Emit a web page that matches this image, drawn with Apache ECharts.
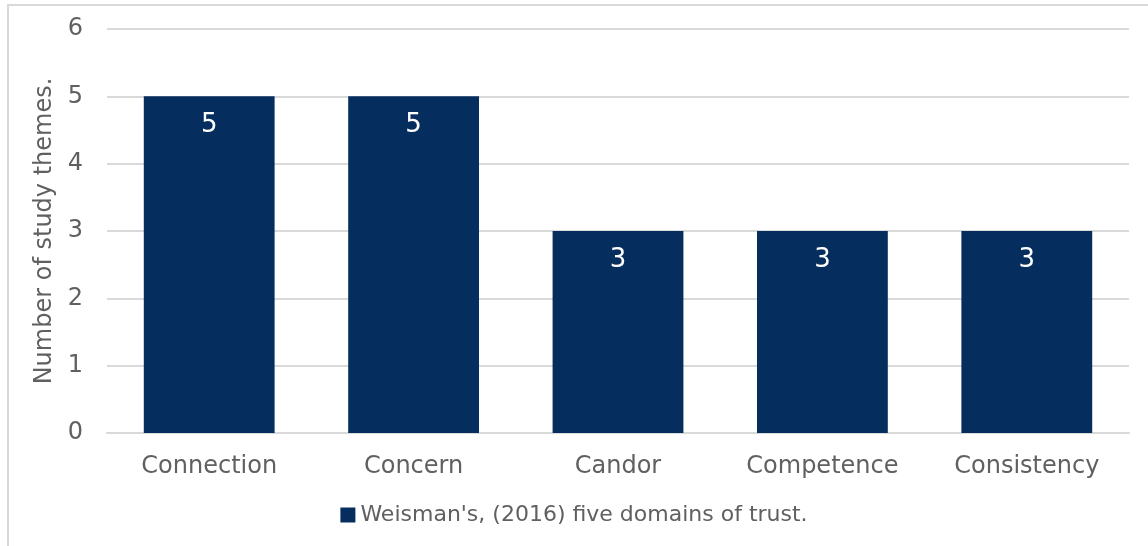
<!DOCTYPE html>
<html><head><meta charset="utf-8">
<script src="https://cdn.jsdelivr.net/npm/echarts@6/dist/echarts.min.js"></script>
<style>html,body{margin:0;padding:0;background:#fff}#c{width:1148px;height:546px}</style>
</head><body><div id="c"></div>
<script>
const categories = ['Connection', 'Concern', 'Candor', 'Competence', 'Consistency'];
const values = [5, 5, 3, 3, 3];
const seriesName = "Weisman's, (2016) five domains of trust.";
const yTitle = 'Number of study themes.';
const FONT = '"DejaVu Sans", sans-serif';
const TXT = '#606060';
const chart = echarts.init(document.getElementById('c'));
chart.setOption({
  animation: false,
  backgroundColor: '#fff',
  graphic: [{type: 'rect', shape: {x: 8, y: 5, width: 1300, height: 700}, style: {fill: 'none', stroke: '#d9d9d9', lineWidth: 2}, silent: true}],
  grid: {left: 107, right: 19, top: 29, bottom: 113},
  legend: {bottom: 15, left: 'center', itemWidth: 15, itemHeight: 15, itemGap: 7,
    textStyle: {color: TXT, fontSize: 22, fontFamily: FONT}, icon: 'rect'},
  xAxis: {type: 'category', data: categories,
    axisLine: {lineStyle: {color: '#d9d9d9', width: 2}}, axisTick: {show: false},
    axisLabel: {color: TXT, fontSize: 24, fontFamily: FONT, margin: 22}},
  yAxis: {type: 'value', min: 0, max: 6, interval: 1,
    name: yTitle, nameLocation: 'middle', nameGap: 41, nameRotate: 90,
    nameTextStyle: {color: TXT, fontSize: 24, fontFamily: FONT},
    axisLine: {show: false}, axisTick: {show: false},
    axisLabel: {color: TXT, fontSize: 24, fontFamily: FONT, margin: 24},
    splitLine: {lineStyle: {color: '#d9d9d9', width: 2}}},
  series: [{name: seriesName, type: 'bar', data: values, barCategoryGap: '36%',
    itemStyle: {color: '#052d5e'},
    label: {show: true, position: 'insideTop', distance: 16, color: '#fff', fontSize: 26, fontFamily: FONT}}]
});
</script></body></html>
